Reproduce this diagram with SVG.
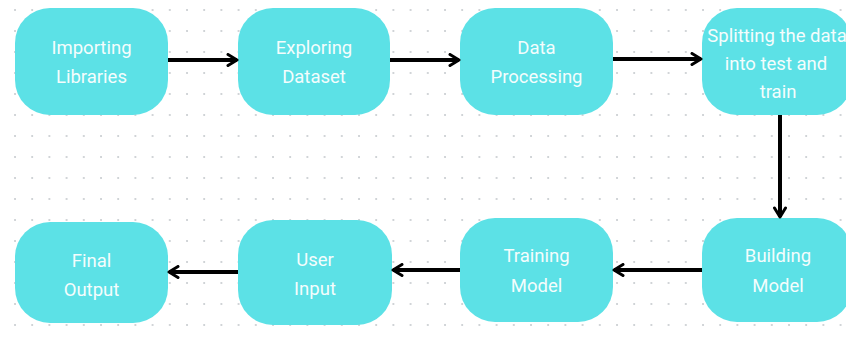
<svg xmlns="http://www.w3.org/2000/svg" width="846" height="340" viewBox="0 0 846 340">
<defs>
<pattern id="dots" x="14" y="9" width="17.2" height="21" patternUnits="userSpaceOnUse">
<circle cx="1" cy="1" r="0.9" fill="#bfc3c7"/>
</pattern>
<marker id="ah" viewBox="0 0 14 14" refX="11.5" refY="7" markerWidth="14" markerHeight="14" markerUnits="userSpaceOnUse" orient="auto">
<path d="M2.5,1.5 L11.5,7 L2.5,12.5" fill="none" stroke="#000" stroke-width="3" stroke-linecap="round" stroke-linejoin="round"/>
</marker>
<style>
.box{fill:#5ce1e6;}
.lbl{font-family:Roboto,"Open Sans","Liberation Sans",sans-serif;font-size:18.5px;fill:#f4fdfd;text-anchor:middle;}
.con{stroke:#000;stroke-width:4;fill:none;marker-end:url(#ah);}
</style>
</defs>
<rect width="846" height="340" fill="#ffffff"/>
<rect width="846" height="340" fill="url(#dots)"/>
<g id="n1"><rect class="box" x="15" y="8" width="153" height="107" rx="35"/><text class="lbl" x="91.5" y="54">Importing</text><text class="lbl" x="91.5" y="83">Libraries</text></g>
<g id="n2"><rect class="box" x="238" y="8" width="152" height="107" rx="35"/><text class="lbl" x="314" y="54">Exploring</text><text class="lbl" x="314" y="83">Dataset</text></g>
<g id="n3"><rect class="box" x="460" y="8" width="153" height="107" rx="35"/><text class="lbl" x="536.5" y="54">Data</text><text class="lbl" x="536.5" y="83">Processing</text></g>
<g id="n4"><rect class="box" x="702" y="8" width="150" height="107" rx="35"/><text class="lbl" x="777" y="42" font-size="17.5">Splitting the data</text><text class="lbl" x="776" y="70">into test and</text><text class="lbl" x="778" y="98">train</text></g>
<g id="n5"><rect class="box" x="702" y="218" width="150" height="104" rx="35"/><text class="lbl" x="778" y="262">Building</text><text class="lbl" x="778" y="292">Model</text></g>
<g id="n6"><rect class="box" x="460" y="218" width="153" height="104" rx="35"/><text class="lbl" x="536.5" y="262">Training</text><text class="lbl" x="536.5" y="292">Model</text></g>
<g id="n7"><rect class="box" x="238" y="220" width="154" height="105" rx="35"/><text class="lbl" x="315" y="266">User</text><text class="lbl" x="315" y="295">Input</text></g>
<g id="n8"><rect class="box" x="15" y="222" width="153" height="101" rx="35"/><text class="lbl" x="91.5" y="267">Final</text><text class="lbl" x="91.5" y="296">Output</text></g>
<g id="connectors">
<line class="con" x1="168" y1="60" x2="237" y2="60"/>
<line class="con" x1="390" y1="60" x2="459" y2="60"/>
<line class="con" x1="613" y1="59" x2="701" y2="59"/>
<line class="con" x1="780" y1="115" x2="780" y2="217"/>
<line class="con" x1="702" y1="270" x2="614" y2="270"/>
<line class="con" x1="460" y1="270" x2="393" y2="270"/>
<line class="con" x1="238" y1="272" x2="169" y2="272"/>
</g>
</svg>
